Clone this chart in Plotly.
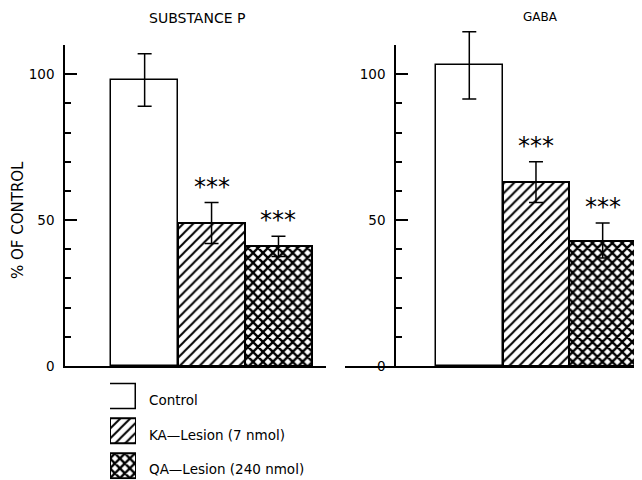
import plotly.graph_objects as go

# ---- data ----
groups = ["Control", "KA-Lesion (7 nmol)", "QA-Lesion (240 nmol)"]
legend_labels = ["Control", "KA\u2014Lesion (7 nmol)", "QA\u2014Lesion (240 nmol)"]
panel_titles = ["SUBSTANCE P", "GABA"]
subst_p_values = [98, 49, 41]
subst_p_errors = [9, 7, 3.5]
gaba_values = [103, 63, 43]
gaba_errors = [11.5, 7, 6]
significance = ["", "***", "***"]
y_tickvals = [0, 50, 100]
y_ticktext = ["0", "50", "100"]
y_axis_title = "% OF CONTROL"

# ---- styles ----
pattern_shapes = ["", "/", "x"]
pattern_solidity = [0.2, 0.28, 0.55]
line_widths = [1.5, 2, 2]
# page body has an 8px margin; figure covers the window from (8,8)
OFF = 8
W, H = 642 - OFF, 480 - OFF
FONT = "DejaVu Sans, sans-serif"

def px_x(px):
    return (px - OFF) / W

def px_y(py):
    return 1 - (py - OFF) / H

Y_BOTTOM, Y_TOP, Y_MAX = 366, 45, 110
Y_TOP_EXT = 12  # taller invisible axis so error bars above 110 are not clipped
Y_MAX_EXT = Y_MAX * (Y_BOTTOM - Y_TOP_EXT) / (Y_BOTTOM - Y_TOP)

positions = [1, 2, 3]

fig = go.Figure()

def add_panel(values, errors, xa, ya, ya_err):
    fig.add_trace(go.Bar(
        x=positions, y=values, width=1,
        xaxis=xa, yaxis=ya,
        marker=dict(
            color="white",
            line=dict(color="black", width=line_widths),
            pattern=dict(shape=pattern_shapes, fgcolor="black", bgcolor="white",
                         size=7, solidity=pattern_solidity, fillmode="replace"),
        ),
        showlegend=False, hoverinfo="skip",
    ))
    fig.add_trace(go.Scatter(
        x=positions, y=values, mode="markers",
        xaxis=xa, yaxis=ya_err,
        marker=dict(size=1, opacity=0),
        error_y=dict(type="data", array=errors, visible=True, color="black",
                     thickness=1.5, width=7),
        showlegend=False, hoverinfo="skip",
    ))
    for xp, v, e, s in zip(positions, values, errors, significance):
        if s:
            fig.add_annotation(x=xp, y=v + e + 6.5, xref=xa, yref=ya, text=s,
                               showarrow=False, xanchor="center", yanchor="middle",
                               font=dict(family="DejaVu Sans", size=24, color="black"),
                               yshift=-3)

add_panel(subst_p_values, subst_p_errors, "x", "y", "y4")
add_panel(gaba_values, gaba_errors, "x2", "y2", "y5")

# legend drawn as a small bar chart with its own axes
legend_pos = [2, 1, 0]
fig.add_trace(go.Bar(
    y=legend_pos, x=[1, 1, 1], orientation="h", width=0.72,
    xaxis="x3", yaxis="y3",
    marker=dict(
        color="white",
        line=dict(color="black", width=line_widths),
        pattern=dict(shape=pattern_shapes, fgcolor="black", bgcolor="white",
                     size=7, solidity=pattern_solidity, fillmode="replace"),
    ),
    showlegend=False, hoverinfo="skip",
))

ydom = [px_y(Y_BOTTOM), px_y(Y_TOP)]
ydom_ext = [px_y(Y_BOTTOM), px_y(Y_TOP_EXT)]
yaxis_common = dict(
    range=[0, Y_MAX], showline=True, linecolor="black", linewidth=1.5,
    ticks="inside", ticklen=12, tickwidth=1.5, tickcolor="black",
    tickvals=y_tickvals, ticktext=y_ticktext,
    minor=dict(dtick=10, ticks="inside", ticklen=6, tickwidth=1.5, tickcolor="black"),
    showgrid=False, zeroline=False, automargin=False,
    tickfont=dict(family=FONT, size=13.5, color="black"),
    ticklabelstandoff=6,
)
yaxis_hidden = dict(range=[0, Y_MAX_EXT], domain=ydom_ext, visible=False,
                    automargin=False, showgrid=False, zeroline=False)
xaxis_common = dict(showline=True, linecolor="black", linewidth=1.5, ticks="",
                    showticklabels=False, showgrid=False, zeroline=False,
                    automargin=False)

fig.update_layout(
    template="none",
    width=W, height=H,
    margin=dict(l=0, r=0, t=0, b=0, autoexpand=False),
    paper_bgcolor="white", plot_bgcolor="rgba(0,0,0,0)",
    bargap=0,
    xaxis=dict(domain=[px_x(65), px_x(326)], range=[-0.19, 3.71], anchor="y", **xaxis_common),
    yaxis=dict(domain=ydom, anchor="x", **yaxis_common),
    xaxis2=dict(domain=[px_x(345), 1.0], range=[-0.864, 3.59], anchor="y2", **xaxis_common),
    yaxis2=dict(domain=ydom, anchor="free", position=px_x(395), **yaxis_common),
    yaxis4=dict(anchor="x", **yaxis_hidden),
    yaxis5=dict(anchor="x2", **yaxis_hidden),
    xaxis3=dict(domain=[px_x(110), px_x(136)], range=[0, 1], anchor="y3",
                visible=False, fixedrange=True, automargin=False),
    yaxis3=dict(domain=[px_y(479.3), px_y(379.25)], range=[-0.4, 2.5], anchor="x3",
                side="right", showline=False, ticks="", showgrid=False, zeroline=False,
                automargin=False,
                tickvals=[p - 0.12 for p in legend_pos], ticktext=legend_labels,
                tickfont=dict(family=FONT, size=13.5, color="black"),
                ticklabelstandoff=12),
)

fig.add_annotation(x=px_x(197), y=px_y(18), xref="paper", yref="paper",
                   xanchor="center", yanchor="middle",
                   text=panel_titles[0], showarrow=False,
                   font=dict(family=FONT, size=14, color="black"))
fig.add_annotation(x=px_x(540), y=px_y(17), xref="paper", yref="paper",
                   xanchor="center", yanchor="middle",
                   text=panel_titles[1], showarrow=False,
                   font=dict(family=FONT, size=12, color="black"))
fig.add_annotation(x=px_x(18), y=px_y(220), xref="paper", yref="paper",
                   xanchor="center", yanchor="middle",
                   text=y_axis_title, showarrow=False, textangle=-90,
                   font=dict(family=FONT, size=15, color="black"))

fig.write_html("out.html")
